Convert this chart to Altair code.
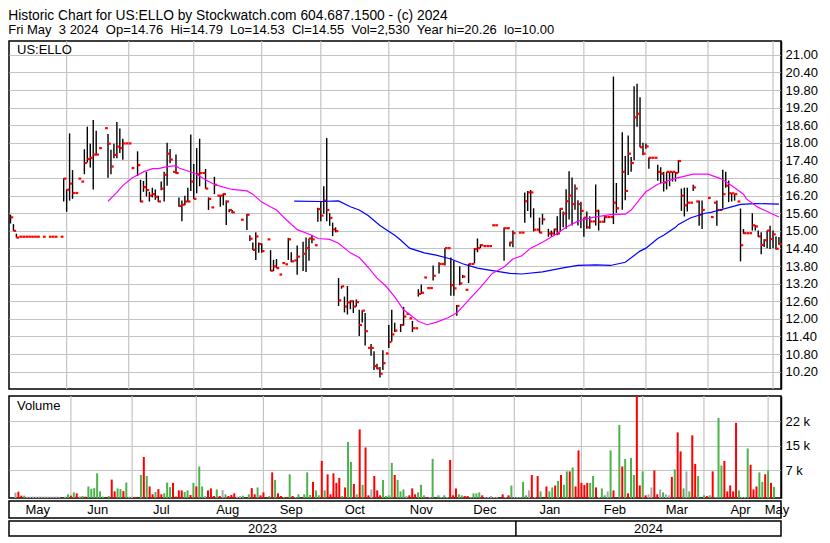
import altair as alt
import numpy as np
import pandas as pd

FONT = "Liberation Sans"
START, END = "2023-05-05", "2024-05-03"

HEADER = [
    "Historic Chart for US:ELLO by Stockwatch.com 604.687.1500 - (c) 2024",
    "Fri May  3 2024  Op=14.76  Hi=14.79  Lo=14.53  Cl=14.55  Vol=2,530  Year hi=20.26  lo=10.00",
]
SYMBOL = "US:ELLO"
VOL_LABEL = "Volume"
MONTHS = ["May", "Jun", "Jul", "Aug", "Sep", "Oct", "Nov", "Dec", "Jan", "Feb", "Mar", "Apr", "May"]
YEARS = ["2023", "2024"]
PRICE_TICKS = [10.2, 10.8, 11.4, 12.0, 12.6, 13.2, 13.8, 14.4, 15.0, 15.6, 16.2, 16.8,
               17.4, 18.0, 18.6, 19.2, 19.8, 20.4, 21.0]
VOL_TICKS = [7.5, 15.0, 22.5]

N = None
# one entry per weekday, 2023-05-05 .. 2024-05-03 (None = no bar)
HIGH = [
    15.55, 15.23, 14.90, N, N, N, N, N, N, N,
    N, N, N, N, N, N, N, N, 16.79, 16.41,
    18.32, 17.07, N, N, N, 17.78, 18.55, 17.97, 18.78, 18.41,
    N, N, N, 18.30, 17.76, 17.97, 18.71, 18.49, 18.14, N,
    N, N, N, 17.71, 16.74, 16.70, 17.01, 16.33, 16.47, 16.41,
    16.20, 16.68, 17.01, 18.00, 17.79, N, 17.60, 16.14, 16.03, 16.20,
    16.47, 18.28, 17.28, 17.82, 18.14, N, 17.11, 16.14, N, 16.84,
    N, 16.20, 16.28, 16.03, 15.74, 15.71, N, N, N, N,
    15.57, 14.85, 14.60, 14.95, 14.60, 14.58, N, N, 14.34, 14.01,
    14.04, N, N, N, 14.76, 14.27, N, 14.50, N, 14.63,
    14.77, 14.74, 14.85, N, 15.79, 16.01, 16.52, 18.16, 15.60, 15.28,
    15.12, 13.39, 13.12, 12.76, 13.12, 12.63, 12.63, 12.66, 12.31, 12.29,
    12.20, N, 11.14, 10.90, 10.47, 10.36, 10.93, N, 11.79, 12.31,
    11.87, N, 11.82, 12.41, N, N, 11.93, N, 13.01, 13.17,
    N, N, N, 13.82, N, 13.93, N, 14.41, N, 14.09,
    13.98, 12.47, 13.79, 13.50, N, 13.87, N, 14.41, 14.74, 14.54,
    N, N, N, N, N, N, N, 15.11, N, 14.63,
    15.01, N, N, N, 16.31, 16.36, 16.39, 15.77, N, 15.45,
    15.58, N, 15.07, 15.01, 15.07, 15.50, 15.77, 15.66, 16.42, 17.03,
    16.82, 16.58, 16.04, 15.99, 15.45, 15.66, 15.50, N, 16.58, 15.72,
    N, 15.50, N, N, 20.26, 16.63, N, 18.36, 17.55, 18.25,
    17.52, 19.93, 20.01, 19.55, 18.00, 17.98, 17.50, N, N, 17.25,
    17.17, 17.01, 17.01, 17.01, 17.01, 17.01, 17.41, 16.44, 16.47, 16.47,
    N, 16.57, N, 16.03, 16.03, N, N, N, N, 16.03,
    N, 17.08, 17.01, 16.71, 16.28, 16.25, N, 15.76, 15.06, N,
    N, 15.60, 15.19, 15.01, 14.95, 14.71, 15.01, 15.17, 15.01, 14.81,
    14.79,
]
LOW = [
    15.25, 15.00, 14.77, N, N, N, N, N, N, N,
    N, N, N, N, N, N, N, N, 16.00, 15.65,
    16.03, 16.09, N, N, N, 16.93, 17.33, 17.16, 16.41, 17.58,
    N, N, N, 16.81, 16.93, 17.47, 17.47, 17.65, 17.42, N,
    N, N, N, 16.87, 15.98, 16.33, 16.17, 16.00, 16.14, 16.06,
    15.98, 16.38, 16.00, 16.54, 17.30, N, 16.95, 15.82, 15.33, 15.87,
    15.99, 16.36, 16.09, 16.28, 16.52, N, 16.44, 15.71, N, 16.25,
    N, 15.82, 15.87, 15.20, 15.63, 15.60, N, N, N, N,
    15.03, 14.65, 14.35, 14.01, 14.25, 14.25, N, N, 13.63, 13.63,
    13.73, N, N, N, 14.01, 13.93, N, 13.50, N, 13.63,
    13.60, 13.98, 14.58, N, 15.31, 15.33, 15.58, 15.33, 15.17, 14.82,
    14.95, 12.44, 13.03, 12.22, 12.15, 12.33, 12.20, 12.42, 11.42, 11.88,
    11.09, N, 10.74, 10.26, 10.28, 10.00, 10.26, N, 11.01, 11.23,
    11.55, N, 11.55, 11.77, N, N, 11.55, N, 12.76, 12.85,
    N, N, N, 13.31, N, 13.55, N, 13.82, N, 12.79,
    12.79, 12.11, 13.15, 13.39, N, 13.22, N, 13.89, 14.27, 14.41,
    N, N, N, N, N, N, N, 13.98, N, 14.47,
    14.44, N, N, N, 15.28, 15.68, 15.45, 14.98, N, 14.93,
    15.21, N, 14.80, 14.80, 14.85, 14.85, 14.96, 15.12, 15.07, 15.39,
    15.18, 15.72, 15.18, 15.09, 14.80, 15.07, 15.07, N, 15.18, 15.01,
    N, 15.28, N, N, 15.23, 15.61, N, 15.72, 16.04, 16.90,
    17.01, 17.41, 18.55, 17.85, 17.58, 17.80, 17.12, N, N, 16.71,
    16.63, 16.34, 16.41, 16.52, 16.68, 16.68, 16.98, 15.68, 15.49, 15.66,
    N, 16.36, N, 15.17, 15.06, N, N, N, N, 15.17,
    N, 15.76, 16.47, 15.98, 16.00, 16.03, N, 13.96, 14.90, N,
    N, 15.01, 15.01, 14.79, 14.20, 14.45, 14.41, 14.38, 14.41, 14.36,
    14.53,
]
CLOSE = [
    15.46, 15.00, 14.77, 14.80, 14.80, 14.80, 14.80, 14.80, 14.80, 14.80,
    N, 14.80, N, 14.80, 14.80, 14.80, N, 14.80, 16.78, 16.40,
    16.61, 16.29, 16.29, 16.78, 16.68, 17.31, 17.45, 17.49, 17.60, 17.60,
    17.82, N, 18.50, 17.97, 17.19, 17.59, 17.87, 17.82, 17.98, 17.98,
    17.98, 17.14, N, 17.24, 16.00, 16.49, 16.39, 16.20, 16.25, 16.16,
    16.00, 16.44, 16.91, 17.63, 17.43, 17.01, 16.97, 15.85, 15.89, 16.00,
    16.00, 16.68, 16.09, 16.93, 16.97, 16.97, 16.44, 16.09, 15.80, 16.57,
    16.20, 16.20, 16.25, 16.00, 15.71, 15.63, N, N, 15.38, N,
    15.55, 14.73, 14.35, 14.81, 14.55, 14.31, N, 14.71, 13.64, 13.79,
    13.73, 13.51, 13.90, 13.86, 14.71, 13.96, 13.99, 14.12, N, 14.22,
    14.41, 14.74, 14.71, 14.51, 15.74, 15.52, 16.03, 15.71, 15.44, 15.05,
    14.99, 12.63, 13.11, 12.42, 12.56, 12.60, 12.42, 12.57, 11.79, 12.28,
    11.58, 11.01, 11.01, 10.39, 10.31, 10.13, 10.49, 10.82, 11.21, 11.47,
    11.60, N, 11.79, 12.08, 12.17, 12.02, 11.68, 11.68, 12.85, 12.89,
    13.41, 13.05, 13.05, 13.47, N, 13.87, 13.87, 14.41, 14.41, 13.15,
    13.04, 12.44, 13.21, 13.44, 12.99, 13.87, 13.87, 14.38, 14.41, 14.51,
    14.48, 14.48, 14.48, 15.19, 15.19, N, N, 15.09, 15.09, 14.60,
    14.92, N, 14.94, 14.94, 16.01, 16.31, 16.31, 15.04, 15.04, 14.94,
    15.39, N, 14.91, 14.91, 15.05, 14.91, 15.75, 15.59, 16.01, 16.20,
    15.91, 16.44, 15.91, 15.68, 15.45, 15.12, 15.32, 15.32, 15.68, 15.31,
    15.31, 15.47, 15.47, 15.47, 15.96, 15.77, N, 17.01, 16.36, 17.63,
    17.31, 18.87, 18.99, 17.85, 17.63, 17.88, 17.49, 17.49, 17.49, 17.01,
    16.95, 16.65, 17.01, 17.01, 17.01, 16.97, 17.38, 16.20, 15.87, 15.96,
    15.96, 16.48, 16.00, 15.55, 15.71, N, 16.12, 15.47, 15.96, 15.71,
    15.71, 16.25, 16.54, 16.28, 16.28, 16.25, 16.00, 14.51, 14.92, 14.92,
    14.92, 15.19, 15.15, 14.81, 14.52, 14.68, 15.01, 14.72, 14.88, 14.39,
    14.55,
]
# volume in thousands of shares
VOL = [
    0.7, 1.0, -0.2, -0.2, -0.5, -0.5, -0.5, -0.5, -0.5, -0.5,
    -0.5, -0.5, -0.5, -0.5, -0.5, -0.5, N, -0.5, 0.2, -0.2,
    0.8, 0.5, -0.4, -0.3, -0.5, 2.6, 1.9, 2.1, 6.6, 1.1,
    -0.5, N, -0.3, 4.7, 1.1, 2.0, 1.8, 1.2, 3.8, -0.5,
    -0.5, -0.6, N, 6.1, 11.6, 5.8, 2.6, 0.2, 0.9, 1.8,
    0.2, 0.5, 3.8, 2.4, 3.7, -0.5, 1.4, 1.4, 0.9, 1.4,
    0.0, 3.7, 2.6, 8.7, 2.6, -0.3, 1.4, 2.0, -0.3, 1.7,
    -0.3, 1.5, 0.2, -0.3, 0.0, 0.5, -0.5, -0.3, -0.2, N,
    0.2, 2.1, 0.2, 2.3, -0.1, 0.8, N, -0.3, 6.9, 4.6,
    0.5, -0.3, -0.6, -0.6, 6.3, -0.3, -0.6, 0.2, N, 0.2,
    6.9, 0.0, 4.0, 1.4, -0.1, 10.4, 1.4, 6.3, 0.2, 6.6,
    3.7, 5.2, -0.3, 2.3, 16.2, 10.1, 3.4, 0.2, 20.0, 3.1,
    14.5, -0.1, 1.7, 5.8, 1.4, -0.1, 4.6, -0.3, -0.1, 9.8,
    6.1, 4.6, 1.1, 1.7, -0.3, -0.1, 2.0, 0.2, 0.8, 3.1,
    -0.1, -0.6, -0.6, 11.0, N, -0.1, -0.6, -0.1, -0.6, 10.7,
    -0.1, 2.0, 0.2, -0.1, -0.3, -0.3, -0.6, 0.5, 0.5, 0.8,
    -0.1, -0.6, -0.6, -0.3, -0.6, -0.6, N, 0.2, -0.6, -0.1,
    2.9, N, -0.6, -0.6, 4.0, -0.1, 1.4, 6.1, -0.6, 5.8,
    1.1, N, 2.6, 1.1, 2.3, 2.9, 4.3, 6.1, 3.1, 7.2,
    7.2, 8.4, 2.6, 13.6, 3.7, 3.1, 3.7, 3.7, 5.8, 2.3,
    -0.6, 2.0, -0.1, 1.1, 13.6, 1.4, N, 21.4, 8.7, 11.0,
    0.5, 11.3, 6.1, 30.2, 2.9, 7.2, -0.1, 0.2, 2.3, 7.5,
    0.2, 1.7, 0.8, 0.2, -0.1, 5.5, 7.8, 19.1, 13.3, 2.0,
    7.2, 1.1, 18.2, 9.5, 5.8, N, -0.1, -0.3, -0.1, 7.2,
    -0.6, 23.5, 9.0, 10.4, 1.1, 2.9, 1.1, 22.0, 1.4, -0.6,
    -0.6, 14.2, 9.2, 1.7, 2.6, 6.9, 4.0, 6.3, 7.5, 3.7,
    2.5,
]
# g = up, r = down, n = unchanged, - = no bar
DIR = (
    "nrrgnnnnnn" "nnnnnn-ngr" "grngrggggg" "g-grrggrgn" "nr-grgrrgr"
    "rgggrrrrgg" "rgrggnrrrg" "rngrrrnng-" "grrgrr-grg" "rrgrgrng-g"
    "ggrggrgrrr" "rrgrggrgrg" "rrnrrrgggg" "rgggnrrrgg" "grng-gngnr"
    "rrggrrnggg" "rnnnnn-rnr" "g-nnggnrnr" "g-rggrgrgg" "rgrrrrrggr"
    "nggngr-grg" "rggrrgrnnr" "rngnnrgrrg" "ngrrg-grgr" "nggrrrrrgn"
    "ngrrrggrgr" "g"
)

# moving averages
MA_FAST_I = [33, 36, 38, 41, 43, 45, 48, 50, 53, 56, 57, 60, 63, 66, 69, 72, 75, 80, 82, 85,
             87, 90, 93, 97, 102, 104, 108, 111, 115, 118, 121, 124, 127, 130, 133, 138, 141,
             144, 148, 151, 154, 159, 163, 167, 170, 173, 176, 180, 184, 188, 192, 197, 203,
             208, 210, 213, 215, 219, 225, 231, 236, 240, 242, 245, 248, 249, 253, 260]
MA_FAST_P = [16.01, 16.31, 16.54, 16.79, 16.90, 17.01, 17.12, 17.12, 17.19, 17.22, 17.14, 17.04,
             16.93, 16.74, 16.58, 16.49, 16.41, 16.36, 16.25, 15.98, 15.87, 15.71, 15.41, 15.04,
             14.85, 14.74, 14.71, 14.58, 14.25, 14.09, 13.76, 13.39, 13.12, 12.75, 12.31, 11.92,
             11.80, 11.88, 12.04, 12.20, 12.53, 13.07, 13.55, 13.77, 14.04, 14.15, 14.41, 14.61,
             14.85, 15.12, 15.33, 15.46, 15.55, 15.57, 15.71, 16.09, 16.33, 16.59, 16.79, 16.93,
             16.93, 16.79, 16.68, 16.47, 16.25, 16.09, 15.80, 15.47]
MA_SLOW_I = [96, 105, 111, 115, 118, 121, 125, 130, 132, 135, 140, 144, 149, 153, 158, 162, 169,
             173, 180, 187, 192, 198, 203, 208, 213, 215, 219, 221, 225, 226, 230, 235, 237, 240,
             243, 247, 252, 260]
MA_SLOW_P = [16.01, 16.00, 16.02, 15.82, 15.71, 15.52, 15.18, 14.85, 14.69, 14.41, 14.25, 14.17,
             14.04, 13.88, 13.73, 13.66, 13.55, 13.53, 13.60, 13.74, 13.82, 13.84, 13.82, 13.93,
             14.31, 14.41, 14.74, 14.85, 15.12, 15.22, 15.44, 15.60, 15.63, 15.71, 15.79, 15.90,
             15.93, 15.91]

# ---------------------------------------------------------------- tables
days = pd.bdate_range(START, END)
n = len(days)
assert len(HIGH) == len(LOW) == len(CLOSE) == len(VOL) == len(DIR) == n
df = pd.DataFrame({"i": np.arange(n), "high": HIGH, "low": LOW, "close": CLOSE,
                   "vol": VOL, "dir": list(DIR)})
range_df = df.dropna(subset=["high"])
close_df = df.dropna(subset=["close"])
vol_df = df.dropna(subset=["vol"])

X_MIN, X_MAX = -0.5, n - 0.3
firsts = pd.date_range("2023-06-01", "2024-05-01", freq="MS")
grid_idx = [int(np.busday_count(START, d.strftime("%Y-%m-%d"))) - (1 if d.weekday() >= 5 else 0)
            for d in firsts]
grid_df = pd.DataFrame({"g": grid_idx})
bounds = [X_MIN] + grid_idx + [X_MAX]
month_df = pd.DataFrame({"m": [(bounds[k] + bounds[k + 1]) / 2 for k in range(len(MONTHS))],
                         "name": MONTHS})
jan = grid_idx[7]
year_df = pd.DataFrame({"m": [(X_MIN + jan) / 2, (jan + X_MAX) / 2], "name": YEARS})
sep_df = pd.DataFrame({"g": [jan]})
fast_df = pd.DataFrame({"i": MA_FAST_I, "p": MA_FAST_P})
slow_df = pd.DataFrame({"i": MA_SLOW_I, "p": MA_SLOW_P})

# keep the runs of spaces in the header visible in SVG text
header = [t.replace("  ", "\u00a0 ") for t in HEADER]

# ---------------------------------------------------------------- chart
W = 772
HP, HV, HM, HY = 348, 102, 17, 15
GRID = "#c4c4c4"
XS = alt.Scale(domain=[X_MIN, X_MAX], nice=False, zero=False)
PY = alt.Scale(domain=[9.61, 21.47], nice=False, zero=False)
VOL_FLOOR = -0.92
VY = alt.Scale(domain=[VOL_FLOOR, 30.2], nice=False, zero=False)

price_axis = alt.Axis(orient="right", values=PRICE_TICKS, format=".2f", grid=True,
                      gridColor=GRID, gridWidth=1, ticks=False, labelPadding=4,
                      labelFont=FONT, labelFontSize=13, labelColor="black",
                      domainColor="black", domainWidth=1.5, title=None)
vol_axis = alt.Axis(orient="right", values=VOL_TICKS, labelExpr="floor(datum.value) + ' k'",
                    grid=True, gridColor=GRID, gridWidth=1, ticks=False, labelPadding=4,
                    labelFont=FONT, labelFontSize=13, labelColor="black",
                    domainColor="black", domainWidth=1.5, title=None)

xi = alt.X("i:Q", scale=XS, axis=None)
vgrid = alt.Chart(grid_df).mark_rule(color=GRID, strokeWidth=1.2).encode(
    x=alt.X("g:Q", scale=XS, axis=None))

rng = alt.Chart(range_df).mark_rule(color="black", strokeWidth=1.4).encode(
    x=xi, y=alt.Y("high:Q", scale=PY, axis=price_axis), y2="low:Q")
ticks = alt.Chart(close_df).transform_calculate(i2="datum.i + 0.92").mark_rule(
    color="#ff0000", strokeWidth=2.2).encode(
    x=xi, x2="i2:Q", y=alt.Y("close:Q", scale=PY, axis=price_axis))
fast = alt.Chart(fast_df).mark_line(color="#ff00ff", strokeWidth=1.2).encode(
    x=xi, y=alt.Y("p:Q", scale=PY, axis=price_axis))
slow = alt.Chart(slow_df).mark_line(color="#0000ff", strokeWidth=1.2).encode(
    x=xi, y=alt.Y("p:Q", scale=PY, axis=price_axis))
sym = alt.Chart(pd.DataFrame({"t": [SYMBOL]})).mark_text(
    align="left", baseline="top", font=FONT, fontSize=13, color="black").encode(
    x=alt.value(8), y=alt.value(3), text="t:N")
price = alt.layer(vgrid, rng, ticks, slow, fast, sym).properties(width=W, height=HP)

vbars = alt.Chart(vol_df).mark_bar(size=2).encode(
    x=xi, y=alt.Y("vol:Q", scale=VY, axis=vol_axis), y2=alt.datum(VOL_FLOOR),
    color=alt.Color("dir:N", scale=alt.Scale(domain=["g", "r", "n"],
                                             range=["#4cb34c", "#ff0000", "#a8a8a8"]),
                    legend=None))
vlab = alt.Chart(pd.DataFrame({"t": [VOL_LABEL]})).mark_text(
    align="left", baseline="top", font=FONT, fontSize=13, color="black").encode(
    x=alt.value(8), y=alt.value(4), text="t:N")
volume = alt.layer(vgrid, vbars, vlab).properties(width=W, height=HV)

months = alt.Chart(month_df).mark_text(font=FONT, fontSize=13, baseline="middle",
                                       color="black").encode(
    x=alt.X("m:Q", scale=XS, axis=None), y=alt.value(HM / 2 + 0.5), text="name:N"
).properties(width=W, height=HM)

ysep = alt.Chart(sep_df).mark_rule(color="black", strokeWidth=1.5).encode(
    x=alt.X("g:Q", scale=XS, axis=None))
ytxt = alt.Chart(year_df).mark_text(font=FONT, fontSize=13, baseline="middle",
                                    color="black").encode(
    x=alt.X("m:Q", scale=XS, axis=None), y=alt.value(HY / 2 + 0.5), text="name:N")
years = alt.layer(ysep, ytxt).properties(width=W, height=HY)

panels = alt.vconcat(price, volume, spacing=3)
chart = alt.vconcat(panels, months, years, spacing=0).properties(
    padding=0,
    title=alt.TitleParams(text=header[0], subtitle=header[1], anchor="start",
                          font=FONT, fontSize=13.8, fontWeight="normal", color="black",
                          lineHeight=15, subtitleFont=FONT, subtitleFontSize=13,
                          subtitleColor="black", subtitleLineHeight=15, subtitlePadding=1,
                          offset=3),
).configure_view(stroke="black", strokeWidth=1.5)

chart.save("out.html", embed_options={"renderer": "svg", "actions": False})
